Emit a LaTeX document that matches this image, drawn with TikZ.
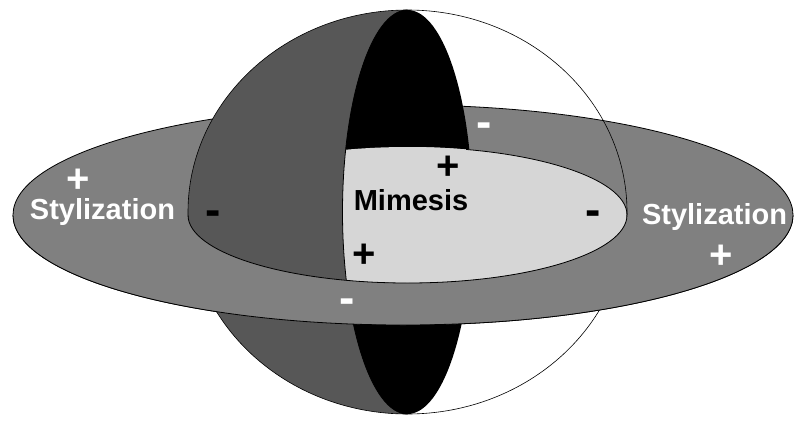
\documentclass[tikz,border=0pt]{standalone}
\usepackage{fontspec}
\newfontfamily\labelfont{Liberation Sans}
\usepackage{tikz}
\usetikzlibrary{positioning}

\definecolor{ringgray}{gray}{0.50}
\definecolor{shellgray}{gray}{0.34}
\definecolor{diskgray}{gray}{0.84}

\begin{document}
\begin{tikzpicture}[
    x=1pt, y=-1pt,
    edge/.style={draw=black, line width=0.8pt},
    word/.style={font=\labelfont\bfseries\fontsize{29}{29}\selectfont, inner sep=0pt, anchor=base},
    plus/.style={font=\labelfont\bfseries\fontsize{40}{40}\selectfont, inner sep=0pt, anchor=base},
    minus/.style={font=\labelfont\bfseries\fontsize{46}{46}\selectfont, inner sep=0pt, anchor=base},
]
\useasboundingbox (0,0) rectangle (794,423);

% Ring (back half) behind the sphere
\filldraw[edge, fill=ringgray] (403,215) ellipse [x radius=390, y radius=110];

% Left shell of the sphere
\begin{scope}
  \clip (0,0) rectangle (407.5,423);
  \fill[shellgray] (407.5,212) ellipse [x radius=219.5, y radius=202];
\end{scope}

% Meridian cut
\fill[black] (407.5,212) ellipse [x radius=65, y radius=202];

% Equator cut (Mimesis disk)
\begin{scope}
  \clip (407.5,215) ellipse [x radius=219.5, y radius=68];
  \fill[diskgray] (407.5,212) ellipse [x radius=65, y radius=202];
  \fill[diskgray] (407.5,0) rectangle (640,423);
\end{scope}
\begin{scope}
  \clip (0,0) rectangle (407.5,423);
  \draw[edge] (407.5,212) ellipse [x radius=65, y radius=202];
\end{scope}
\begin{scope}
  \clip (466,0) rectangle (640,215);
  \draw[edge] (407.5,215) ellipse [x radius=219.5, y radius=68];
\end{scope}

% Sphere outline
\draw[black, line width=0.6pt] (407.5,212) ellipse [x radius=219.5, y radius=202];

% Ring (front half) over the sphere
\begin{scope}
  \clip (0,215) rectangle (794,423);
  \filldraw[edge, fill=ringgray, even odd rule]
    (403,215) ellipse [x radius=390, y radius=110]
    (407.5,215) ellipse [x radius=219.5, y radius=68];
\end{scope}

% Labels
\node[word, white] (styL) at (102.5,219) {Stylization};
\node[word, white] (styR) at (714.5,224) {Stylization};
\node[word, black] (mim) at (411,210) {Mimesis};

\node[plus, white] (pL) at (78,192) {+};
\node[plus, white] (pR) at (721,268) {+};
\node[plus, black] (pT) at (448,179) {+};
\node[plus, black] (pB) at (364.5,267) {+};

\node[minus, black] (mL) at (213,225.5) {-};
\node[minus, black] (mR) at (593,225.5) {-};
\node[minus, white] (mT) at (484.5,137.5) {-};
\node[minus, white] (mB) at (347.5,313.5) {-};
\end{tikzpicture}
\end{document}
